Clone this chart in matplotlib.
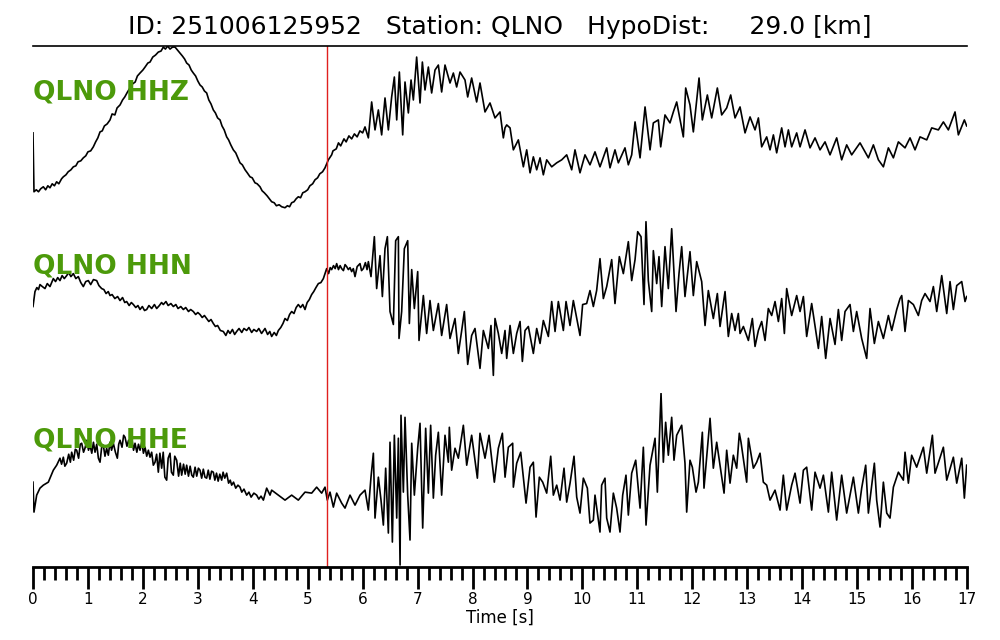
import numpy as np
import matplotlib
matplotlib.use("Agg")
import matplotlib.pyplot as plt

# event / station info
event_id = "251006125952"
station = "QLNO"
hypo_dist = 29.0
p_pick = 5.357  # s, red marker
channels = ["HHZ", "HHN", "HHE"]

# traces (time [s], amplitude in arbitrary normalised units)
t_hhz = [0.00, 0.018, 0.06, 0.10, 0.14, 0.188, 0.23, 0.27, 0.309, 0.35,
         0.39, 0.43, 0.47, 0.52, 0.552, 0.60, 0.64, 0.69, 0.734, 0.78,
         0.82, 0.87, 0.916, 0.96, 1.00, 1.05, 1.098, 1.14, 1.18, 1.22,
         1.26, 1.30, 1.35, 1.402, 1.44, 1.49, 1.53, 1.584, 1.63, 1.67,
         1.72, 1.766, 1.81, 1.86, 1.90, 1.948, 2.00, 2.04, 2.09, 2.13,
         2.18, 2.23, 2.281, 2.33, 2.372, 2.41, 2.45, 2.494, 2.54, 2.585,
         2.63, 2.676, 2.72, 2.76, 2.797, 2.84, 2.88, 2.918, 2.96, 3.00,
         3.040, 3.08, 3.12, 3.161, 3.20, 3.24, 3.282, 3.32, 3.36, 3.404,
         3.44, 3.48, 3.525, 3.56, 3.60, 3.646, 3.69, 3.73, 3.768, 3.81,
         3.86, 3.90, 3.950, 3.99, 4.04, 4.08, 4.132, 4.17, 4.21, 4.26,
         4.302, 4.344, 4.39, 4.43, 4.48, 4.526, 4.587, 4.63, 4.67, 4.708,
         4.75, 4.79, 4.829, 4.87, 4.91, 4.951, 5.00, 5.04, 5.09, 5.133,
         5.18, 5.22, 5.27, 5.315, 5.376, 5.436, 5.46, 5.52, 5.56, 5.60,
         5.66, 5.70, 5.75, 5.80, 5.85, 5.90, 5.95, 6.00, 6.043, 6.104,
         6.164, 6.225, 6.286, 6.346, 6.407, 6.468, 6.528, 6.577, 6.620, 6.668,
         6.729, 6.771, 6.832, 6.881, 6.923, 6.983, 7.044, 7.087, 7.135, 7.196,
         7.256, 7.317, 7.378, 7.438, 7.499, 7.590, 7.651, 7.711, 7.772, 7.863,
         7.912, 7.984, 8.075, 8.136, 8.227, 8.318, 8.409, 8.500, 8.561, 8.591,
         8.622, 8.683, 8.743, 8.834, 8.925, 8.986, 9.047, 9.107, 9.168, 9.229,
         9.289, 9.350, 9.441, 9.532, 9.623, 9.714, 9.805, 9.865, 9.956, 10.047,
         10.138, 10.229, 10.320, 10.442, 10.502, 10.593, 10.654, 10.775, 10.836, 10.897,
         10.958, 11.049, 11.140, 11.231, 11.291, 11.382, 11.425, 11.503, 11.594, 11.655,
         11.716, 11.837, 11.880, 11.958, 12.019, 12.123, 12.183, 12.274, 12.353, 12.456,
         12.535, 12.626, 12.699, 12.778, 12.869, 12.960, 13.051, 13.142, 13.203, 13.263,
         13.354, 13.415, 13.476, 13.536, 13.627, 13.688, 13.749, 13.809, 13.900, 13.961,
         14.052, 14.143, 14.234, 14.325, 14.416, 14.507, 14.628, 14.719, 14.810, 14.901,
         15.053, 15.205, 15.296, 15.387, 15.478, 15.569, 15.660, 15.751, 15.872, 15.963,
         16.054, 16.145, 16.267, 16.358, 16.479, 16.570, 16.661, 16.782, 16.843, 16.952,
         16.994]
a_hhz = [0, -59, -57, -59, -56, -54, -57, -53, -55, -51,
         -53, -49, -51, -46, -44, -42, -39, -37, -34, -33,
         -29, -28, -25, -23, -19, -18, -14, -9, -5, 1,
         2, 7, 9, 13, 19, 18, 25, 28, 33, 36,
         41, 45, 49, 51, 57, 60, 63, 66, 70, 71,
         76, 78, 81, 82, 86, 84, 87, 84, 86, 86,
         83, 80, 77, 74, 70, 68, 63, 60, 57, 52,
         48, 46, 42, 40, 33, 29, 23, 20, 15, 13,
         7, 3, -4, -7, -12, -17, -20, -25, -30, -32,
         -37, -40, -44, -45, -50, -51, -54, -58, -60, -63,
         -66, -69, -70, -73, -72, -74, -75, -73, -74, -70,
         -69, -66, -64, -65, -60, -59, -57, -53, -51, -47,
         -45, -41, -39, -35, -27, -22, -18, -16, -10, -13,
         -6, -9, -3, -6, -1, -4, 2, 0, 6, -5,
         31, 3, 23, -2, 35, 3, 36, 56, 13, 61,
         -2, 51, 20, 53, 33, 76, 30, 71, 43, 66,
         40, 63, 68, 41, 68, 50, 60, 46, 61, 53,
         36, 55, 31, 50, 21, 30, 15, 21, -5, 5,
         8, 5, -17, -7, -34, -17, -40, -24, -37, -25,
         -42, -27, -34, -30, -27, -22, -37, -17, -40, -22,
         -32, -19, -34, -15, -35, -17, -30, -15, -32, -22,
         11, -25, 26, -17, 10, 13, -14, 18, 10, 21,
         31, -4, 45, 28, 1, 55, 13, 38, 15, 45,
         18, 25, 38, 15, 26, 0, 16, 3, 15, -14,
         -4, -17, -2, -20, 5, -14, 3, -14, 0, -14,
         3, -15, -5, -17, -9, -22, -5, -27, -12, -22,
         -10, -25, -12, -27, -34, -15, -25, -9, -15, -5,
         -17, -4, -7, 5, 3, 11, 3, 21, -2, 13,
         7]

t_hhn = [0.00, 0.036, 0.07, 0.10, 0.127, 0.17, 0.218, 0.26, 0.309, 0.34,
         0.370, 0.41, 0.45, 0.491, 0.53, 0.57, 0.613, 0.65, 0.69, 0.734,
         0.78, 0.825, 0.87, 0.916, 0.96, 1.007, 1.05, 1.10, 1.159, 1.20,
         1.250, 1.29, 1.33, 1.37, 1.402, 1.44, 1.49, 1.54, 1.584, 1.63,
         1.67, 1.705, 1.75, 1.79, 1.827, 1.87, 1.91, 1.948, 1.99, 2.03,
         2.069, 2.11, 2.16, 2.21, 2.251, 2.30, 2.34, 2.372, 2.42, 2.46,
         2.51, 2.554, 2.60, 2.64, 2.69, 2.736, 2.78, 2.83, 2.87, 2.918,
         2.96, 3.00, 3.040, 3.08, 3.12, 3.161, 3.20, 3.24, 3.282, 3.32,
         3.36, 3.41, 3.464, 3.51, 3.55, 3.586, 3.63, 3.67, 3.707, 3.75,
         3.80, 3.84, 3.889, 3.93, 3.98, 4.02, 4.071, 4.11, 4.16, 4.223,
         4.27, 4.31, 4.344, 4.39, 4.43, 4.466, 4.51, 4.55, 4.587, 4.63,
         4.67, 4.708, 4.75, 4.79, 4.829, 4.87, 4.91, 4.951, 4.99, 5.03,
         5.072, 5.11, 5.15, 5.194, 5.24, 5.285, 5.345, 5.38, 5.41, 5.436,
         5.47, 5.50, 5.527, 5.56, 5.59, 5.618, 5.65, 5.68, 5.709, 5.74,
         5.77, 5.800, 5.83, 5.861, 5.90, 5.952, 5.98, 6.012, 6.05, 6.08,
         6.104, 6.152, 6.213, 6.255, 6.316, 6.359, 6.407, 6.450,
         6.498, 6.559, 6.601, 6.650, 6.662, 6.710, 6.759, 6.820, 6.850, 6.893,
         6.941, 7.002, 7.026, 7.105, 7.165, 7.226, 7.287, 7.378, 7.438, 7.529,
         7.590, 7.681, 7.742, 7.803, 7.851, 7.912, 7.984, 8.045, 8.136, 8.197,
         8.288, 8.336, 8.379, 8.409, 8.470, 8.531, 8.591, 8.622, 8.683, 8.743,
         8.804, 8.865, 8.907, 8.956, 9.016, 9.107, 9.168, 9.229, 9.289, 9.380,
         9.441, 9.502, 9.562, 9.653, 9.702, 9.774, 9.835, 9.956, 10.004, 10.077,
         10.138, 10.199, 10.259, 10.320, 10.381, 10.442, 10.533, 10.593, 10.672, 10.745,
         10.836, 10.897, 10.958, 11.006, 11.067, 11.121, 11.157, 11.200, 11.261, 11.291,
         11.352, 11.394, 11.443, 11.503, 11.564, 11.625, 11.704, 11.758, 11.807, 11.867,
         11.958, 12.019, 12.080, 12.171, 12.232, 12.292, 12.383, 12.456, 12.505, 12.596,
         12.656, 12.717, 12.778, 12.838, 12.869, 12.930, 13.021, 13.093, 13.142, 13.203,
         13.263, 13.324, 13.384, 13.445, 13.506, 13.567, 13.627, 13.676, 13.718, 13.809,
         13.900, 13.961, 14.022, 14.082, 14.173, 14.295, 14.355, 14.428, 14.507, 14.598,
         14.659, 14.719, 14.780, 14.871, 14.932, 14.992, 15.083, 15.174, 15.235, 15.314,
         15.387, 15.478, 15.569, 15.630, 15.721, 15.781, 15.812, 15.872, 15.933, 16.024,
         16.115, 16.175, 16.236, 16.327, 16.388, 16.449, 16.540, 16.631, 16.691, 16.752,
         16.813, 16.904, 16.964, 16.994]
a_hhn = [0, 15, 19, 17, 22, 20, 18, 23, 20, 24,
         28, 25, 29, 26, 31, 28, 31, 34, 30, 33,
         28, 30, 24, 20, 25, 26, 22, 27, 26, 21,
         18, 17, 13, 15, 11, 12, 8, 10, 6, 9,
         4, 5, 1, 4, 2, -1, 1, -3, 0, -4,
         -3, 1, -2, 2, -2, 1, 4, 2, 5, 1,
         3, 0, 2, -2, 0, -3, -1, -5, -3, -5,
         -8, -6, -8, -11, -9, -12, -15, -13, -17, -20,
         -19, -24, -25, -29, -24, -27, -23, -28, -25, -22,
         -26, -22, -24, -21, -26, -23, -25, -22, -27, -22,
         -28, -25, -30, -26, -29, -24, -21, -17, -12, -14,
         -8, -5, -7, -1, 2, -1, 2, -3, 4, 7,
         12, 15, 19, 23, 24, 28, 38, 33, 39, 37,
         41, 38, 43, 37, 41, 38, 36, 42, 40, 37,
         39, 35, 38, 30, 40, 43, 36, 38, 44, 37,
         45, 30, 70, 18, 51, 10, 58, 70,
         -5, -18, 66, 70, -32, -5, 58, 66, -17, 37,
         -2, 35, -34, 11, -27, 6, -24, 3, -29, 2,
         -32, -12, -47, -24, -5, -58, -29, -22, -62, -24,
         -42, -19, -69, -12, -27, -47, -24, -52, -19, -47,
         -27, -15, -55, -24, -20, -47, -22, -37, -14, -30,
         5, -25, 5, -24, 5, -19, 6, -29, 2, 3,
         16, 0, 16, 48, 8, 20, 47, 3, 50, 33,
         65, 26, 47, 75, 70, 2, 85, 26, -5, 56,
         23, 50, 0, 60, 18, 78, -5, 33, 60, 10,
         55, 11, 45, 25, -19, 16, -12, 13, -20, 15,
         -30, -7, -24, -7, -27, -20, -34, -12, -40, -24,
         -15, -34, -2, -9, 5, -15, 8, -27, 18, -9,
         11, -5, 10, -30, 3, -42, -10, -52, -12, -38,
         -3, -34, -5, 2, -25, -5, -32, -52, -2, -37,
         -15, -32, -9, -24, -3, 8, 11, -25, 6, 2,
         -9, 6, 13, 5, 20, -5, 31, -7, 25, -3,
         21, 25, 5, 10]

t_hhe = [0.00, 0.018, 0.067, 0.127, 0.188, 0.279, 0.370, 0.431, 0.491, 0.52,
         0.552, 0.58, 0.613, 0.65, 0.68, 0.704, 0.74, 0.77, 0.795, 0.83,
         0.86, 0.886, 0.92, 0.946, 0.98, 1.01, 1.037, 1.07, 1.10, 1.129,
         1.16, 1.19, 1.220, 1.25, 1.280, 1.31, 1.34, 1.371, 1.40, 1.43,
         1.462, 1.50, 1.535, 1.56, 1.584, 1.62, 1.65, 1.675, 1.71, 1.74,
         1.766, 1.80, 1.83, 1.857, 1.89, 1.92, 1.948, 1.98, 2.01, 2.039,
         2.07, 2.10, 2.130, 2.16, 2.19, 2.221, 2.25, 2.281, 2.31, 2.342,
         2.37, 2.40, 2.433, 2.46, 2.494, 2.52, 2.554, 2.58, 2.615, 2.65,
         2.68, 2.706, 2.74, 2.77, 2.797, 2.83, 2.86, 2.89, 2.918, 2.95,
         2.98, 3.01, 3.040, 3.07, 3.10, 3.13, 3.161, 3.19, 3.22, 3.25,
         3.282, 3.31, 3.34, 3.37, 3.40, 3.434, 3.46, 3.49, 3.525, 3.56,
         3.59, 3.616, 3.65, 3.69, 3.73, 3.768, 3.80, 3.84, 3.889, 3.93,
         3.97, 4.02, 4.071, 4.11, 4.15, 4.193, 4.253,
         4.314, 4.344, 4.466, 4.587, 4.708, 4.829, 4.951, 5.072, 5.163, 5.254,
         5.315, 5.357, 5.406, 5.467, 5.527, 5.618, 5.679, 5.770, 5.861, 5.952,
         6.043, 6.104, 6.152, 6.195, 6.225, 6.286, 6.334, 6.377, 6.419, 6.468,
         6.498, 6.541, 6.577, 6.620, 6.650, 6.681, 6.698, 6.741, 6.771, 6.820,
         6.862, 6.893, 6.941, 7.002, 7.044, 7.093, 7.147, 7.196, 7.238, 7.287,
         7.329, 7.378, 7.438, 7.499, 7.560, 7.578, 7.620, 7.681, 7.742, 7.833,
         7.894, 7.984, 8.088, 8.136, 8.227, 8.300, 8.397, 8.470, 8.543, 8.592,
         8.652, 8.731, 8.743, 8.804, 8.877, 8.974, 9.047, 9.107, 9.156, 9.216,
         9.277, 9.350, 9.423, 9.471, 9.532, 9.593, 9.665, 9.714, 9.775, 9.847,
         9.896, 9.956, 10.017, 10.090, 10.138, 10.199, 10.229, 10.320, 10.350, 10.411,
         10.442, 10.502, 10.563, 10.623, 10.684, 10.733, 10.793, 10.836, 10.897, 10.970,
         11.049, 11.109, 11.158, 11.231, 11.322, 11.364, 11.431, 11.473, 11.515, 11.564,
         11.625, 11.667, 11.716, 11.807, 11.867, 11.898, 11.958, 12.001, 12.068, 12.110,
         12.183, 12.213, 12.323, 12.383, 12.444, 12.505, 12.578, 12.626, 12.687, 12.747,
         12.808, 12.856, 12.887, 12.990, 13.021, 13.112, 13.172, 13.233, 13.293, 13.354,
         13.415, 13.506, 13.597, 13.657, 13.718, 13.809, 13.870, 13.961, 14.022, 14.082,
         14.173, 14.234, 14.325, 14.386, 14.477, 14.537, 14.628, 14.719, 14.810, 14.932,
         15.023, 15.083, 15.156, 15.205, 15.314, 15.356, 15.417, 15.478, 15.539, 15.599,
         15.660, 15.751, 15.842, 15.872, 15.933, 15.993, 16.084, 16.206, 16.267, 16.370,
         16.418, 16.570, 16.631, 16.752, 16.813, 16.904, 16.952, 16.994]
a_hhe = [-2, -32, -15, -8, -5, -2, 10, 15, 22, 16,
         23, 14, 17, 26, 18, 28, 20, 31, 30, 22,
         36, 37, 28, 32, 40, 30, 35, 27, 38, 28,
         36, 22, 18, 33, 35, 24, 32, 25, 38, 30,
         37, 28, 22, 36, 40, 33, 45, 43, 34, 40,
         35, 41, 30, 37, 28, 36, 30, 38, 27, 33,
         24, 30, 23, 28, 15, 18, 26, 8, 27, 12,
         28, 3, 0, 22, 27, 8, 5, 24, 20, 4,
         17, 5, 16, 6, 15, 4, 14, 5, 3, 13,
         4, 12, 10, 2, 11, 3, 2, 10, 1, 9,
         8, 0, 7, -1, 6, 0, 8, 2, 7, -3,
         0, -5, -2, -8, -5, -7, -12, -9, -15, -12,
         -17, -13, -15, -19, -16, -20, -8,
         -15, -10, -15, -20, -15, -20, -12, -13, -7, -13,
         -7, -20, -12, -27, -13, -23, -28, -15, -25, -15,
         -10, -30, 3, 27, -38, 3, -20, -45, 12, -53,
         38, -62, 45, -38, 42, -85, 65, -12, 63, -15,
         -60, 37, -15, 32, 57, -48, 52, -13, 55, -18,
         25, 48, -15, 45, 18, 53, 10, 32, 22, 55,
         15, 45, 2, 47, 22, 45, -2, 32, 47, 3,
         33, 37, -7, 17, 28, -23, 13, 18, -37, 3,
         -2, -13, 24, -15, -5, -20, 12, -22, -3, 24,
         -17, -33, 2, -8, -43, -40, -15, -52, -5, 2,
         -38, -52, -13, -28, -52, -15, 5, -35, 7, 20,
         -28, 33, -45, 15, 42, -12, 87, 18, 58, 25,
         63, 20, 45, 55, 17, -32, 20, 13, -12, -2,
         48, -8, 62, 12, 38, 15, -13, 30, -3, 25,
         12, 47, 38, -2, 42, 12, 18, 27, -2, -5,
         -20, -10, -30, 5, -30, -5, 7, -23, 10, 13,
         -30, 8, -8, 5, -32, 8, -40, 5, -33, 3,
         -33, -8, 15, -33, 17, -20, -47, -2, -33, -38,
         -7, 8, 0, 28, -3, 25, 13, 33, 7, 45,
         7, 33, 0, 23, -3, 22, -18, 15]

traces = [(t_hhz, a_hhz), (t_hhn, a_hhn), (t_hhe, a_hhe)]

fig = plt.figure(figsize=(10, 6.4), dpi=100)
bottoms = [0.6567, 0.3854, 0.1141]
axes = []
for i, (ch, (t, a)) in enumerate(zip(channels, traces)):
    ax = fig.add_axes([0.033, bottoms[i], 0.934, 0.2713])
    ax.plot(t, a, color='black', lw=1.2)
    ax.axvline(p_pick, color='#e0201e', lw=1.0)
    ax.set_xlim(0, 17)
    ax.set_ylim(-87, 87)
    ax.set_yticks([])
    for s in ['left', 'right', 'top', 'bottom']:
        ax.spines[s].set_visible(False)
    ax.text(0.0, 0.73, station + ' ' + ch, transform=ax.transAxes,
            color='#4c9a0a', fontsize=19, fontweight='bold', ha='left', va='center')
    if i < 2:
        ax.set_xticks([])
    axes.append(ax)

axes[0].spines['top'].set_visible(True)
axes[0].spines['top'].set_linewidth(1.2)

ax = axes[-1]
ax.spines['bottom'].set_visible(True)
ax.spines['bottom'].set_linewidth(2)
ax.set_xticks(np.arange(0, 18, 1))
ax.set_xticks(np.arange(0, 17.01, 0.2), minor=True)
ax.tick_params(axis='x', which='major', length=16, width=2, labelsize=11, pad=2)
ax.tick_params(axis='x', which='minor', length=9, width=2)
ax.set_xlabel('Time [s]', fontsize=12, labelpad=1)

fig.text(0.5, 1 - 27 / 640.,
         'ID: %s   Station: %s   HypoDist: %8.1f [km]' % (event_id, station, hypo_dist),
         ha='center', va='center', fontsize=18)

fig.savefig('out.png', dpi=100)
